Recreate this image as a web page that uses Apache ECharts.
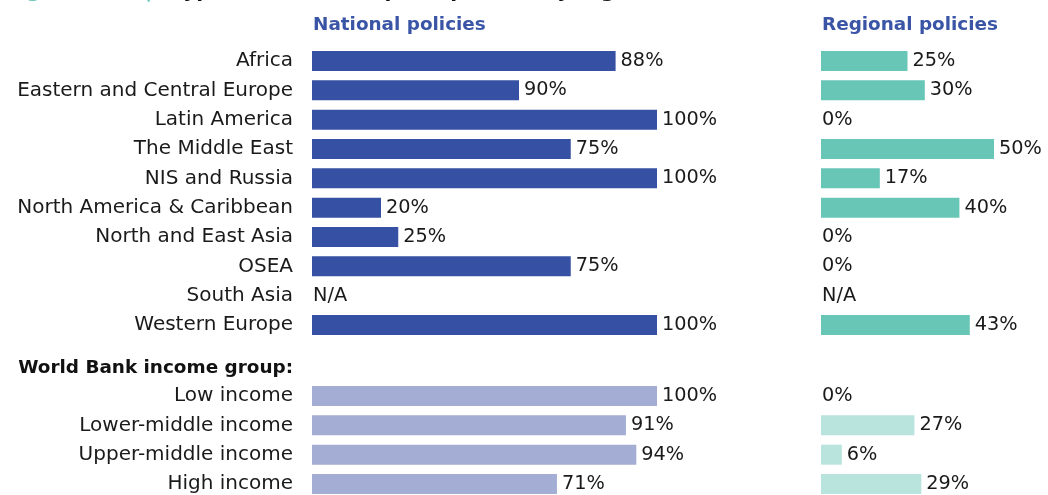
<!DOCTYPE html>
<html>
<head>
<meta charset="utf-8">
<script src="https://cdn.jsdelivr.net/npm/echarts@6/dist/echarts.min.js"></script>
<style>
html,body{margin:0;padding:0;background:#fff;}
#chart{width:1048px;height:495px;}
</style>
</head>
<body>
<div id="chart"></div>
<script>
// ---- data ----
const regionCategories = ['Africa','Eastern and Central Europe','Latin America','The Middle East','NIS and Russia','North America & Caribbean','North and East Asia','OSEA','South Asia','Western Europe'];
const regionNationalValues = [88, 60, 100, 75, 100, 20, 25, 75, 0, 100];
const regionNationalLabels = ['88%','90%','100%','75%','100%','20%','25%','75%','N/A','100%'];
const regionRegionalValues = [25, 30, 0, 50, 17, 40, 0, 0, 0, 43];
const regionRegionalLabels = ['25%','30%','0%','50%','17%','40%','0%','0%','N/A','43%'];

const incomeHeading = 'World Bank income group:';
const incomeCategories = ['Low income','Lower-middle income','Upper-middle income','High income'];
const incomeNationalValues = [100, 91, 94, 71];
const incomeNationalLabels = ['100%','91%','94%','71%'];
const incomeRegionalValues = [0, 27, 6, 29];
const incomeRegionalLabels = ['0%','27%','6%','29%'];

const panelTitles = ['National policies', 'Regional policies'];
const figureTitleA = 'Figure 3.4';
const figureTitleSep = '|';
const figureTitleB = 'Types of anti-corruption policies by region';

// ---- styles ----
const FONT = 'DejaVu Sans';
const TXT = '#1a1a1a';
const C_NAT = '#3651a3';
const C_NAT_L = '#a4aed4';
const C_REG = '#68c6b6';
const C_REG_L = '#b9e3dd';
const HEAD = '#3a55a5';

const ROW = 29.33;
const firstA = 61, firstB = 396;
const natLeft = 312, natW = 345;
const regLeft = 821, regW = 1048 - 821;
const regMax = 100 * regW / 346;

function items(vals, labels){
  return vals.map((v,i)=>({value:v, label:{distance: v===0 ? 1 : 5, formatter: labels[i]}}));
}
function ser(idx, vals, labels, color){
  return {
    type:'bar', xAxisIndex:idx, yAxisIndex:idx, barWidth:20, clip:false,
    itemStyle:{color:color},
    label:{show:true, position:'right', color:TXT, fontFamily:FONT, fontSize:19.3},
    data: items(vals, labels), silent:true, animation:false
  };
}
function yAx(idx, cats, showLabels){
  return {
    type:'category', gridIndex:idx, data:cats, inverse:true, boundaryGap:false,
    axisLine:{show:false}, axisTick:{show:false}, splitLine:{show:false},
    axisLabel:{show:showLabels, margin:19, color:TXT, fontFamily:FONT, fontSize:20, interval:0}
  };
}
function xAx(idx, max){
  return {type:'value', gridIndex:idx, min:0, max:max, show:false, splitLine:{show:false}};
}

const chart = echarts.init(document.getElementById('chart'), null, {renderer:'canvas'});
chart.setOption({
  backgroundColor:'#fff',
  animation:false,
  grid:[
    {left:natLeft, top:firstA, width:natW, height:ROW*(regionCategories.length-1)},
    {left:regLeft, top:firstA, width:regW, height:ROW*(regionCategories.length-1)},
    {left:natLeft, top:firstB, width:natW, height:ROW*(incomeCategories.length-1)},
    {left:regLeft, top:firstB, width:regW, height:ROW*(incomeCategories.length-1)}
  ],
  xAxis:[xAx(0,100),xAx(1,regMax),xAx(2,100),xAx(3,regMax)],
  yAxis:[yAx(0,regionCategories,true), yAx(1,regionCategories,false), yAx(2,incomeCategories,true), yAx(3,incomeCategories,false)],
  series:[
    ser(0, regionNationalValues, regionNationalLabels, C_NAT),
    ser(1, regionRegionalValues, regionRegionalLabels, C_REG),
    ser(2, incomeNationalValues, incomeNationalLabels, C_NAT_L),
    ser(3, incomeRegionalValues, incomeRegionalLabels, C_REG_L)
  ],
  graphic:[
    {type:'text', x:313, y:25, style:{text:panelTitles[0], fill:HEAD, font:'bold 18.4px "DejaVu Sans"', verticalAlign:'middle'}},
    {type:'text', x:822, y:25, style:{text:panelTitles[1], fill:HEAD, font:'bold 18.4px "DejaVu Sans"', verticalAlign:'middle'}},
    {type:'text', x:293, y:368, style:{text:incomeHeading, fill:'#111', font:'bold 18.4px "DejaVu Sans"', align:'right', verticalAlign:'middle'}},
    {type:'text', x:6, y:-8, style:{text:figureTitleA, fill:C_REG, font:'bold 20px "DejaVu Sans"', verticalAlign:'middle'}},
    {type:'text', x:145, y:-8, style:{text:figureTitleSep, fill:C_REG, font:'bold 20px "DejaVu Sans"', verticalAlign:'middle'}},
    {type:'text', x:172, y:-8, style:{text:figureTitleB, fill:'#111', font:'bold 20px "DejaVu Sans"', verticalAlign:'middle'}}
  ]
});
</script>
</body>
</html>
